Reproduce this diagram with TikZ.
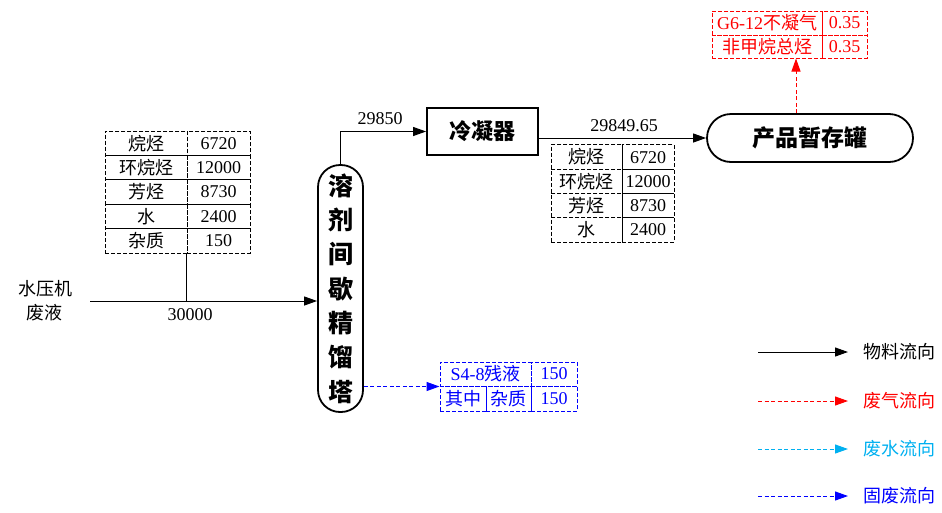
\documentclass[tikz,border=0pt]{standalone}
\usepackage{fontspec}
\setmainfont{Liberation Serif}
\newfontfamily\cj{Noto Sans CJK SC}
\usetikzlibrary{arrows.meta,calc}
\definecolor{gasred}{RGB}{255,0,0}
\definecolor{solidblue}{RGB}{0,0,255}
\definecolor{watercyan}{RGB}{0,176,240}
\tikzset{
  tip/.style={-{Triangle[length=13pt,width=9pt]}},
  flow/.style={tip,line width=1pt,black},
  gasflow/.style={tip,line width=1pt,gasred,dash pattern=on 4pt off 2.5pt},
  waterflow/.style={tip,line width=1pt,watercyan,dash pattern=on 4pt off 2.5pt},
  solidflow/.style={tip,line width=1pt,solidblue,dash pattern=on 4pt off 2.5pt},
  cellbox/.style={draw,line width=1pt,dash pattern=on 4pt off 2pt,inner sep=0pt,
    font=\fontsize{18}{20}\selectfont},
  num/.style={font=\fontsize{18}{20}\selectfont,inner sep=1pt},
  legtext/.style={anchor=west,inner sep=0pt,font=\cj\fontsize{18}{20}\selectfont},
}
\begin{document}
\begin{tikzpicture}[x=1pt,y=-1pt]
\useasboundingbox (0,0) rectangle (942,512);
% main units
\node[draw,line width=1.8pt,rounded corners=22pt,minimum width=45pt,minimum height=247pt,inner sep=0pt,
  align=center,font=\cj\bfseries\fontsize{25}{34.3}\selectfont] (col) at (340.5,288.5)
  {溶\\剂\\间\\歇\\精\\馏\\塔};
\node[draw,line width=1.8pt,minimum width=111pt,minimum height=47pt,inner sep=0pt,
  font=\cj\bfseries\fontsize{22}{24}\selectfont] (cond) at (482.5,131.5) {冷凝器};
\node[draw,line width=1.8pt,rounded corners=24pt,minimum width=206pt,minimum height=48pt,inner sep=0pt,
  font=\cj\bfseries\fontsize{23}{25}\selectfont] (tank) at (810,138) {产品暂存罐};
% inlet
\node[align=center,font=\cj\fontsize{18}{24}\selectfont] (src) at (45,301) {水压机\\废液};
\coordinate (inA) at (90,301);
\draw[flow] (inA) -- (inA -| col.west);
\node[num] (q1) at (190,315) {30000};
% left table
\node[cellbox,minimum width=82pt,minimum height=24.4pt] (la1) at (146,143.2) {\cj 烷烃};
\node[cellbox,minimum width=63pt,minimum height=24.4pt] (lb1) at (218.5,143.2) {6720};
\node[cellbox,minimum width=82pt,minimum height=24.4pt] (la2) at (146,167.6) {\cj 环烷烃};
\node[cellbox,minimum width=63pt,minimum height=24.4pt] (lb2) at (218.5,167.6) {12000};
\node[cellbox,minimum width=82pt,minimum height=24.4pt] (la3) at (146,192) {\cj 芳烃};
\node[cellbox,minimum width=63pt,minimum height=24.4pt] (lb3) at (218.5,192) {8730};
\node[cellbox,minimum width=82pt,minimum height=24.4pt] (la4) at (146,216.4) {\cj 水};
\node[cellbox,minimum width=63pt,minimum height=24.4pt] (lb4) at (218.5,216.4) {2400};
\node[cellbox,minimum width=82pt,minimum height=24.4pt] (la5) at (146,240.8) {\cj 杂质};
\node[cellbox,minimum width=63pt,minimum height=24.4pt] (lb5) at (218.5,240.8) {150};
\draw[line width=1pt] (lb5.south west) -- (lb5.south west |- inA);
% column to condenser
\draw[flow] (col.north) |- (cond.west);
\node[num] (q2) at (380,119) {29850};
% condenser to tank
\draw[flow] (cond.east |- tank.west) -- (tank.west);
\node[num] (q3) at (624,126) {29849.65};
% right table
\node[cellbox,minimum width=71pt,minimum height=24.25pt] (ra1) at (586.5,157.1) {\cj 烷烃};
\node[cellbox,minimum width=52pt,minimum height=24.25pt] (rb1) at (648,157.1) {6720};
\node[cellbox,minimum width=71pt,minimum height=24.25pt] (ra2) at (586.5,181.4) {\cj 环烷烃};
\node[cellbox,minimum width=52pt,minimum height=24.25pt] (rb2) at (648,181.4) {12000};
\node[cellbox,minimum width=71pt,minimum height=24.25pt] (ra3) at (586.5,205.6) {\cj 芳烃};
\node[cellbox,minimum width=52pt,minimum height=24.25pt] (rb3) at (648,205.6) {8730};
\node[cellbox,minimum width=71pt,minimum height=24.25pt] (ra4) at (586.5,229.9) {\cj 水};
\node[cellbox,minimum width=52pt,minimum height=24.25pt] (rb4) at (648,229.9) {2400};
% gas table
\node[cellbox,gasred,minimum width=110pt,minimum height=24pt] (ga1) at (767,23) {G6-12{\cj 不凝气}};
\node[cellbox,gasred,minimum width=45pt,minimum height=24pt] (gb1) at (844.5,23) {0.35};
\node[cellbox,gasred,minimum width=110pt,minimum height=23pt] (ga2) at (767,46.5) {\cj 非甲烷总烃};
\node[cellbox,gasred,minimum width=45pt,minimum height=23pt] (gb2) at (844.5,46.5) {0.35};
\draw[gasflow] ([xshift=-14pt]tank.north) -- ([xshift=-14pt]tank.north |- ga2.south);
% solid table
\node[cellbox,solidblue,minimum width=91pt,minimum height=24pt] (sa1) at (485.5,374) {S4-8{\cj 残液}};
\node[cellbox,solidblue,minimum width=46pt,minimum height=24pt] (sb1) at (554,374) {150};
\node[cellbox,solidblue,minimum width=46pt,minimum height=25pt] (sa2) at (463,398.5) {\cj 其中};
\node[cellbox,solidblue,minimum width=45pt,minimum height=25pt] (sm2) at (508.5,398.5) {\cj 杂质};
\node[cellbox,solidblue,minimum width=46pt,minimum height=25pt] (sb2) at (554,398.5) {150};
\draw[solidflow] (sa1.south west -| col.east) -- (sa1.south west);
% legend
\coordinate (l1s) at (758,352); \coordinate (l1e) at (848,352);
\coordinate (l2s) at (758,401); \coordinate (l2e) at (848,401);
\coordinate (l3s) at (758,449); \coordinate (l3e) at (848,449);
\coordinate (l4s) at (758,496); \coordinate (l4e) at (848,496);
\draw[flow] (l1s) -- (l1e);
\draw[gasflow] (l2s) -- (l2e);
\draw[waterflow] (l3s) -- (l3e);
\draw[solidflow] (l4s) -- (l4e);
\node[legtext,black] (t1) at (863,352) {物料流向};
\node[legtext,gasred] (t2) at (863,401) {废气流向};
\node[legtext,watercyan] (t3) at (863,449) {废水流向};
\node[legtext,solidblue] (t4) at (863,496) {固废流向};
\end{tikzpicture}
\end{document}
